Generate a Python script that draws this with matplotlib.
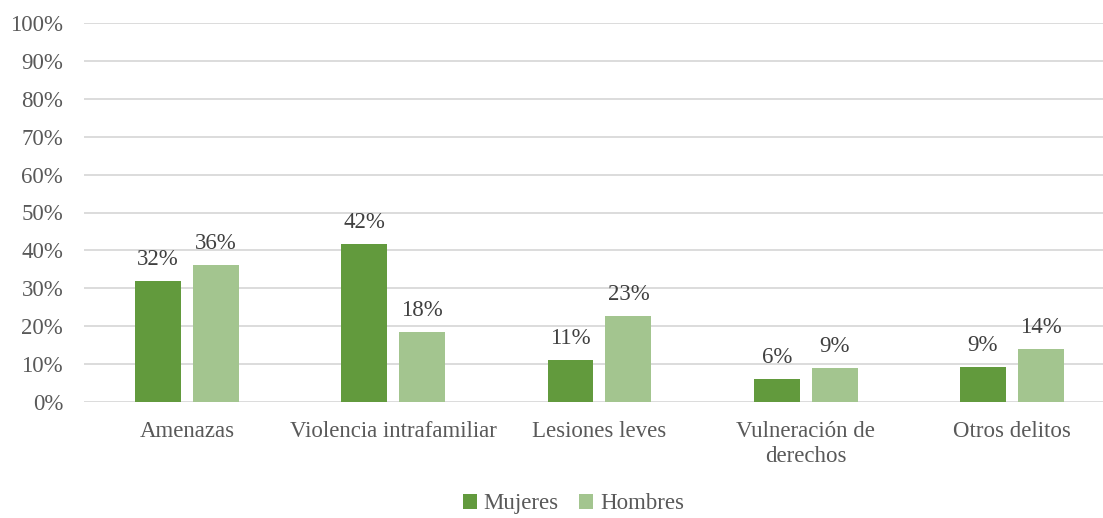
import numpy as np
import matplotlib.pyplot as plt
from matplotlib.ticker import PercentFormatter

categories = ["Amenazas", "Violencia intrafamiliar", "Lesiones leves",
              "Vulneración de\nderechos", "Otros delitos"]
mujeres = [32.0, 41.7, 11.1, 6.1, 9.2]
hombres = [36.2, 18.5, 22.6, 8.9, 14.0]

dark = "#629A3D"
light = "#A3C58F"
txt = "#595959"

plt.rcParams["font.family"] = ["Liberation Serif", "DejaVu Serif"]

fig = plt.figure(figsize=(11.03, 5.18), dpi=100)
ax = fig.add_axes([84 / 1103, 116 / 518, 1019 / 1103, 379 / 518])

x = np.arange(len(categories))
w = 0.223
off = 0.1406
b1 = ax.bar(x - off, mujeres, w, color=dark, label="Mujeres", zorder=3)
b2 = ax.bar(x + off, hombres, w, color=light, label="Hombres", zorder=3)

for bars, vals in ((b1, mujeres), (b2, hombres)):
    for b, v in zip(bars, vals):
        ax.annotate(f"{v:.0f}%", (b.get_x() + b.get_width() / 2, v),
                    xytext=(0, 8), textcoords="offset points",
                    ha="center", va="bottom", fontsize=16.5, color="#404040")

ax.set_ylim(0, 100)
ax.set_yticks(np.arange(0, 101, 10))
ax.yaxis.set_major_formatter(PercentFormatter(decimals=0))
ax.set_xlim(-0.5, 4.5 - 12 / 206.25)
ax.set_xticks(x)
ax.set_xticklabels(categories, linespacing=1.25)
ax.tick_params(axis="both", length=0, labelsize=16.5, colors=txt)
ax.tick_params(axis="x", pad=14)
ax.tick_params(axis="y", pad=15)
ax.grid(axis="y", color="#D9D9D9", linewidth=1.3, zorder=0)
for s in ax.spines.values():
    s.set_visible(False)

fig.legend(loc="lower center", bbox_to_anchor=(0.52, -0.033), ncol=2,
           frameon=False, fontsize=16.5, labelcolor=txt, handlelength=0.6,
           handleheight=0.6, handletextpad=0.3, columnspacing=0.9)

fig.savefig("out.png", dpi=100)
